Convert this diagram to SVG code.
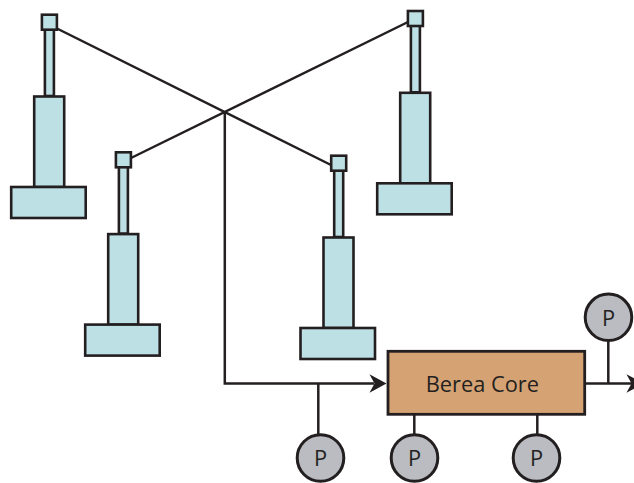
<svg xmlns="http://www.w3.org/2000/svg" width="634" height="483" viewBox="0 0 634 483">
<style>
.c{fill:#bde0e5;stroke:#231f20;stroke-width:2.6}
.l{fill:none;stroke:#231f20;stroke-width:2.5}
.p{fill:#babcc1;stroke:#231f20;stroke-width:3}
.t{font-family:"Open Sans","Noto Sans",sans-serif;font-size:21.8px;fill:#231f20;text-anchor:middle}
</style>
<defs>
<g id="col">
<rect class="c" x="44.9" y="29" width="9" height="67"/>
<rect class="c" x="34.2" y="96.5" width="30" height="90.5"/>
<rect class="c" x="11.2" y="187" width="74.5" height="31"/>
<rect class="c" x="41.9" y="14.7" width="15" height="15"/>
</g>
<path id="ah" d="M0 0L-17 -9.3L-12 0L-17 9.3Z" fill="#231f20"/>
</defs>
<g id="connectors">
<path class="l" d="M56 28L331 165"/>
<path class="l" d="M131 158L408 22"/>
<path class="l" d="M224.8 112V383.5H374"/>
<path class="l" d="M318.3 383.5V435"/>
<path class="l" d="M414.3 414V435"/>
<path class="l" d="M537.3 414V435"/>
<path class="l" d="M608.3 340V383.5"/>
<path class="l" d="M585 383.5H632"/>
<use href="#ah" x="386.5" y="383.5"/>
<use href="#ah" x="643.5" y="383.5"/>
</g>
<g id="column-1"><use href="#col"/></g>
<g id="column-2"><use href="#col" x="74" y="137.6"/></g>
<g id="column-3"><use href="#col" x="366" y="-3.7"/></g>
<g id="column-4"><use href="#col" x="289.3" y="141"/></g>
<g id="berea-core">
<rect x="388" y="351.3" width="196.7" height="63" fill="#d5a273" stroke="#231f20" stroke-width="2.8"/>
<text class="t" x="482.3" y="391.5">Berea Core</text>
</g>
<g id="gauge-top"><circle class="p" cx="608.5" cy="317.3" r="23.3"/><text class="t" x="608.5" y="326">P</text></g>
<g id="gauge-1"><circle class="p" cx="320.5" cy="458" r="23.3"/><text class="t" x="320.5" y="465.5">P</text></g>
<g id="gauge-2"><circle class="p" cx="414.5" cy="458" r="23.3"/><text class="t" x="414.5" y="465.5">P</text></g>
<g id="gauge-3"><circle class="p" cx="536.5" cy="458" r="23.3"/><text class="t" x="536.5" y="465.5">P</text></g>
</svg>
